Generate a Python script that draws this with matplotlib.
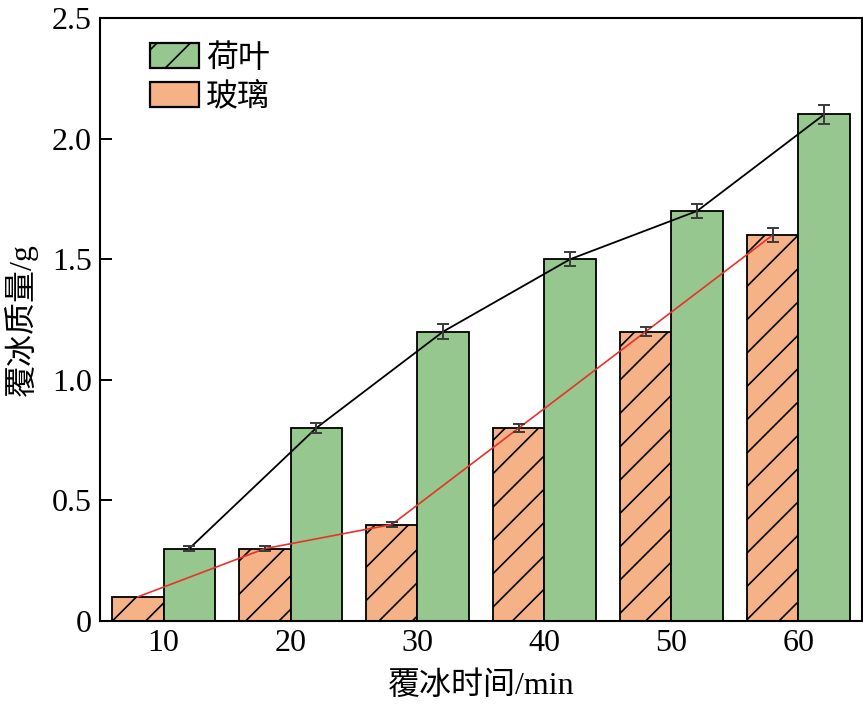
import numpy as np
import matplotlib
matplotlib.use("Agg")
import matplotlib.pyplot as plt
from matplotlib.patches import Patch

plt.rcParams['font.family'] = ['Liberation Serif', 'Noto Sans CJK SC', 'DejaVu Sans']
plt.rcParams['hatch.linewidth'] = 1.2

times = ['10', '20', '30', '40', '50', '60']
lotus = [0.30, 0.80, 1.20, 1.50, 1.70, 2.10]
lotus_err = [0.01, 0.02, 0.03, 0.03, 0.03, 0.04]
glass = [0.10, 0.30, 0.40, 0.80, 1.20, 1.60]
glass_err = [0.0, 0.01, 0.01, 0.015, 0.02, 0.03]

green = '#95c78e'
orange = '#f5b286'

x = np.arange(len(times))
w = 0.405

fig = plt.figure(figsize=(8.63, 7.08), dpi=100)
ax = fig.add_axes([0.1159, 0.1229, 0.8829, 0.8517])

ax.bar(x - w / 2, glass, w, color=orange, edgecolor='black', linewidth=1.3,
       hatch='/', zorder=2)
ax.bar(x + w / 2, lotus, w, color=green, edgecolor='black', linewidth=1.3, zorder=2)

ax.plot(x + w / 2, lotus, color='black', lw=1.3, zorder=3)
ax.plot(x - w / 2, glass, color='#e8322a', lw=1.2, zorder=3)

ax.errorbar(x + w / 2, lotus, yerr=lotus_err, fmt='none', ecolor='#3a3a3a',
            elinewidth=1.4, capsize=4.5, capthick=1.4, zorder=4)
ax.errorbar(x[1:] - w / 2, glass[1:], yerr=glass_err[1:], fmt='none', ecolor='#3a3a3a',
            elinewidth=1.4, capsize=4.5, capthick=1.4, zorder=4)

ax.set_xlim(-0.5, len(times) - 0.5)
ax.set_ylim(0, 2.5)
ax.set_xticks(x)
ax.set_xticklabels(times)
ax.set_yticks([0, 0.5, 1.0, 1.5, 2.0, 2.5])
ax.set_yticklabels(['0', '0.5', '1.0', '1.5', '2.0', '2.5'])
ax.tick_params(axis='y', direction='in', length=8.5, width=1.4, labelsize=23, pad=6)
ax.tick_params(axis='x', length=0, labelsize=23, pad=6)
for s in ax.spines.values():
    s.set_linewidth(1.5)

ax.set_xlabel('覆冰时间/min', fontsize=23, labelpad=9)
ax.set_ylabel('覆冰质量/g', fontsize=23, labelpad=10)

handles = [Patch(facecolor=green, edgecolor='black', linewidth=1.6, hatch='/'),
           Patch(facecolor=orange, edgecolor='black', linewidth=1.6)]
ax.legend(handles, ['荷叶', '玻璃'], loc='upper left', bbox_to_anchor=(0.066, 0.958),
          frameon=False, fontsize=23, handlelength=1.53, handleheight=0.81,
          handletextpad=0.22, labelspacing=0.27, borderaxespad=0, borderpad=0)

fig.savefig('out.png', dpi=100)
